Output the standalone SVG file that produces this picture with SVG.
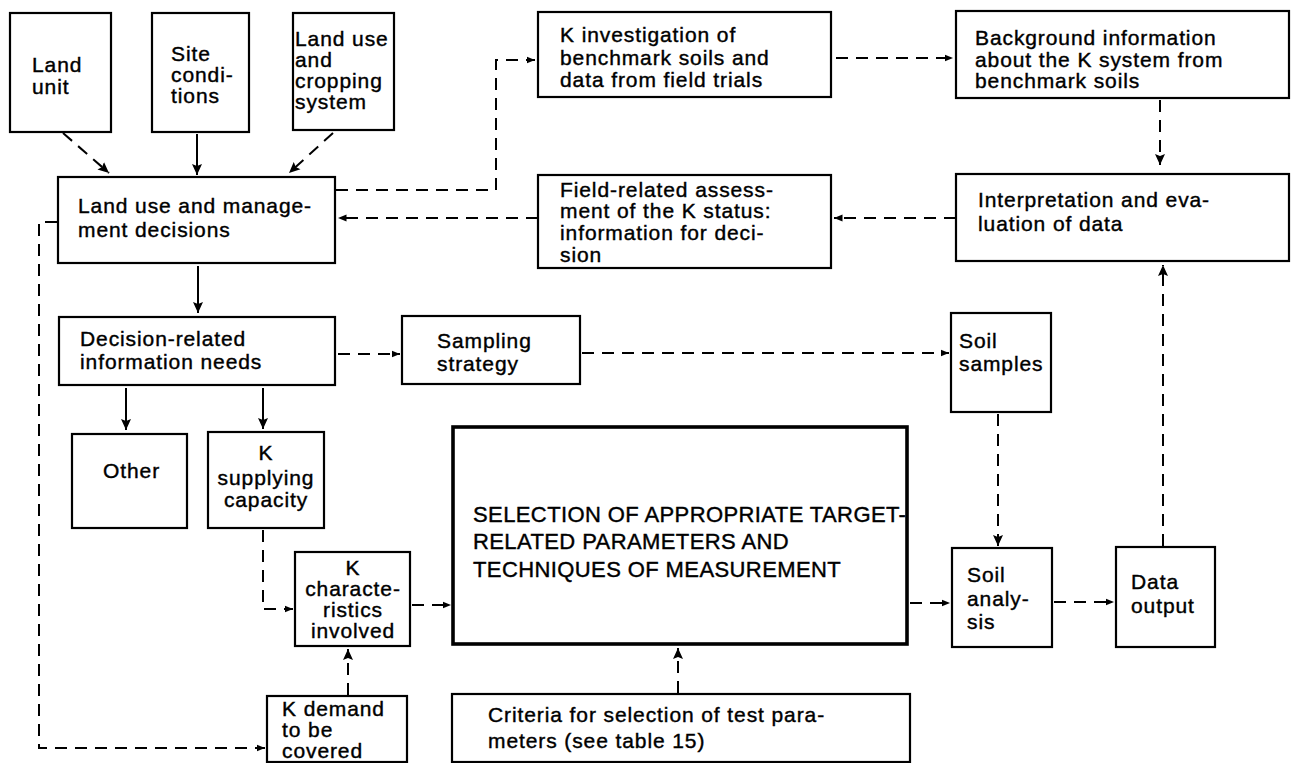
<svg xmlns="http://www.w3.org/2000/svg" width="1291" height="763" viewBox="0 0 1291 763">
  <style>
    .box { fill: #fff; stroke: #000; stroke-width: 2.2; }
    .thick { stroke-width: 3.6; }
    text { font-family: "Liberation Sans", Arial, Helvetica, sans-serif; font-size: 21px; letter-spacing: 0.9px; fill: #000; stroke: #000; stroke-width: 0.4; }
    .caps { font-size: 22px; letter-spacing: 0.4px; }
    .mid { text-anchor: middle; }
    .solid { fill: none; stroke: #000; stroke-width: 2; }
    .dash { fill: none; stroke: #000; stroke-width: 2; stroke-dasharray: 12 8; }
  </style>
  <defs>
    <marker id="ah" markerUnits="userSpaceOnUse" markerWidth="12" markerHeight="12" viewBox="0 0 12 12" refX="11" refY="6" orient="auto">
      <path d="M0,1 L11,6 L0,11 L2,6 Z" fill="#000"/>
    </marker>
    <marker id="ahs" markerUnits="userSpaceOnUse" markerWidth="9" markerHeight="8" viewBox="0 0 9 8" refX="8.5" refY="4" orient="auto">
      <path d="M0,0.5 L8.5,4 L0,7.5 Z" fill="#000"/>
    </marker>
  </defs>

  <rect width="1291" height="763" fill="#fff"/>

  <!-- connectors -->
  <g id="connectors">
    <path class="dash" d="M63,133 L109,173" marker-end="url(#ah)"/>
    <path class="solid" d="M197,134 V175" marker-end="url(#ah)"/>
    <path class="dash" d="M333,133 L289,173" marker-end="url(#ah)"/>
    <path class="dash" d="M336,190 H496 V60 H535" marker-end="url(#ahs)"/>
    <path class="dash" d="M836,58 H953" marker-end="url(#ahs)"/>
    <path class="dash" d="M1160,100 V165" marker-end="url(#ah)"/>
    <path class="dash" d="M956,218 H834" marker-end="url(#ahs)"/>
    <path class="dash" d="M538,218 H338" marker-end="url(#ahs)"/>
    <path class="solid" d="M198,266 V313" marker-end="url(#ah)"/>
    <path class="dash" d="M338,354 H400" marker-end="url(#ahs)"/>
    <path class="dash" d="M582,353 H949" marker-end="url(#ahs)"/>
    <path class="solid" d="M126,388 V430" marker-end="url(#ah)"/>
    <path class="solid" d="M263,388 V429" marker-end="url(#ah)"/>
    <path class="dash" d="M263,530 V609 H293" marker-end="url(#ahs)"/>
    <path class="dash" d="M412,605 H451" marker-end="url(#ahs)"/>
    <path class="dash" d="M348,695 V649" marker-end="url(#ah)"/>
    <path class="dash" d="M57,222 H39 V748 H265" marker-end="url(#ahs)"/>
    <path class="dash" d="M678,693 V648" marker-end="url(#ah)"/>
    <path class="dash" d="M998,414 V546" marker-end="url(#ah)"/>
    <path class="dash" d="M910,603 H950" marker-end="url(#ahs)"/>
    <path class="dash" d="M1054,602 H1114" marker-end="url(#ahs)"/>
    <path class="dash" d="M1163,546 V265" marker-end="url(#ah)"/>
  </g>

  <!-- nodes -->
  <g id="land-unit">
    <rect class="box" x="10" y="13" width="101" height="119"/>
    <text x="32" y="72">Land</text>
    <text x="32" y="94">unit</text>
  </g>
  <g id="site-conditions">
    <rect class="box" x="152" y="13" width="97" height="119"/>
    <text x="171" y="61">Site</text>
    <text x="171" y="82">condi-</text>
    <text x="171" y="103">tions</text>
  </g>
  <g id="land-use-system">
    <rect class="box" x="293" y="13" width="101" height="117"/>
    <text x="295" y="46">Land use</text>
    <text x="295" y="67">and</text>
    <text x="295" y="88">cropping</text>
    <text x="295" y="109">system</text>
  </g>
  <g id="management-decisions">
    <rect class="box" x="58" y="177" width="277" height="86"/>
    <text x="78" y="213">Land use and manage-</text>
    <text x="78" y="237">ment decisions</text>
  </g>
  <g id="k-investigation">
    <rect class="box" x="538" y="12" width="293" height="85"/>
    <text x="560" y="42">K investigation of</text>
    <text x="560" y="65">benchmark soils and</text>
    <text x="560" y="87">data from field trials</text>
  </g>
  <g id="background-information">
    <rect class="box" x="956" y="11" width="333" height="87"/>
    <text x="975" y="45">Background information</text>
    <text x="975" y="67">about the K system from</text>
    <text x="975" y="88">benchmark soils</text>
  </g>
  <g id="field-assessment">
    <rect class="box" x="538" y="175" width="293" height="93"/>
    <text x="560" y="197">Field-related assess-</text>
    <text x="560" y="218">ment of the K status:</text>
    <text x="560" y="240">information for deci-</text>
    <text x="560" y="262">sion</text>
  </g>
  <g id="interpretation">
    <rect class="box" x="956" y="174" width="333" height="87"/>
    <text x="978" y="207">Interpretation and eva-</text>
    <text x="978" y="231">luation of data</text>
  </g>
  <g id="information-needs">
    <rect class="box" x="59" y="317" width="276" height="68"/>
    <text x="80" y="346">Decision-related</text>
    <text x="80" y="369">information needs</text>
  </g>
  <g id="sampling-strategy">
    <rect class="box" x="402" y="316" width="178" height="68"/>
    <text x="437" y="348">Sampling</text>
    <text x="437" y="371">strategy</text>
  </g>
  <g id="soil-samples">
    <rect class="box" x="951" y="313" width="100" height="99"/>
    <text x="959" y="348">Soil</text>
    <text x="959" y="371">samples</text>
  </g>
  <g id="other">
    <rect class="box" x="72" y="434" width="115" height="94"/>
    <text x="103" y="478">Other</text>
  </g>
  <g id="k-supplying-capacity">
    <rect class="box" x="208" y="432" width="116" height="96"/>
    <text class="mid" x="266" y="460">K</text>
    <text class="mid" x="266" y="485">supplying</text>
    <text class="mid" x="266" y="507">capacity</text>
  </g>
  <g id="k-characteristics">
    <rect class="box" x="295" y="552" width="115" height="94"/>
    <text class="mid" x="353" y="575">K</text>
    <text class="mid" x="353" y="596">characte-</text>
    <text class="mid" x="353" y="617">ristics</text>
    <text class="mid" x="353" y="638">involved</text>
  </g>
  <g id="parameter-selection">
    <rect class="box thick" x="453" y="427" width="454" height="217"/>
    <text class="caps" x="473" y="522">SELECTION OF APPROPRIATE TARGET-</text>
    <text class="caps" x="473" y="549">RELATED PARAMETERS AND</text>
    <text class="caps" x="473" y="577">TECHNIQUES OF MEASUREMENT</text>
  </g>
  <g id="soil-analysis">
    <rect class="box" x="952" y="548" width="100" height="99"/>
    <text x="967" y="582">Soil</text>
    <text x="967" y="606">analy-</text>
    <text x="967" y="629">sis</text>
  </g>
  <g id="data-output">
    <rect class="box" x="1116" y="547" width="99" height="100"/>
    <text x="1131" y="589">Data</text>
    <text x="1131" y="613">output</text>
  </g>
  <g id="k-demand">
    <rect class="box" x="267" y="696" width="140" height="66"/>
    <text x="282" y="716">K demand</text>
    <text x="282" y="737">to be</text>
    <text x="282" y="758">covered</text>
  </g>
  <g id="selection-criteria">
    <rect class="box" x="452" y="694" width="458" height="68"/>
    <text x="488" y="722">Criteria for selection of test para-</text>
    <text x="488" y="748">meters (see table 15)</text>
  </g>
</svg>
